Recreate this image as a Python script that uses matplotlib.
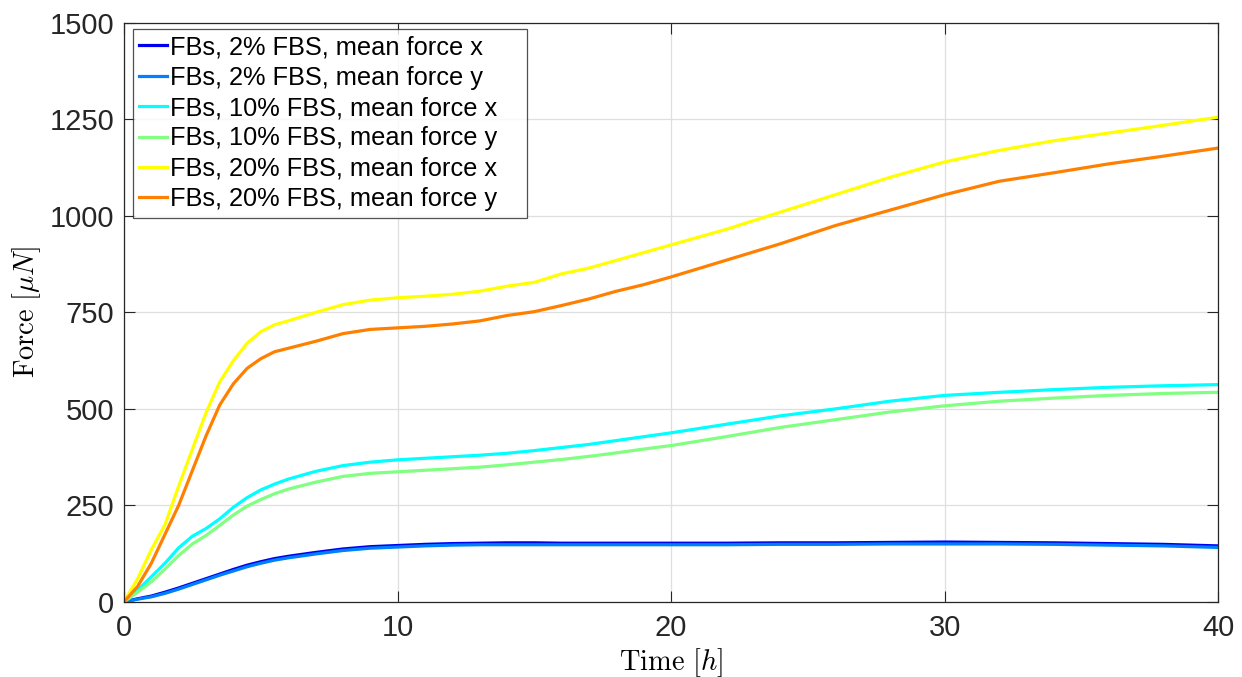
import matplotlib
matplotlib.use('Agg')
import matplotlib.pyplot as plt

plt.rcParams['font.family'] = ['Liberation Sans', 'DejaVu Sans']
plt.rcParams['mathtext.fontset'] = 'cm'

# time axis in hours
time_h = [0, 0.5, 1, 1.5, 2, 2.5, 3, 3.5, 4, 4.5, 5, 5.5, 6, 7, 8, 9, 10, 11, 12, 13,
          14, 15, 16, 17, 18, 19, 20, 22, 24, 26, 28, 30, 32, 34, 36, 38, 40]

# mean forces (uN)
fbs2_x = [0, 8, 15, 25, 36, 48, 60, 72, 84, 95, 104, 112, 118, 128, 137, 143, 146, 149, 151, 152,
          153, 153, 152, 152, 152, 152, 152, 152, 153, 153, 154, 155, 154, 153, 151, 149, 145]
fbs2_y = [0, 7, 13, 22, 33, 45, 57, 69, 80, 91, 100, 108, 114, 124, 133, 139, 142, 145, 147, 148,
          148, 148, 148, 148, 148, 148, 148, 148, 149, 149, 150, 150, 150, 149, 147, 145, 141]
fbs10_x = [0, 30, 65, 100, 140, 170, 190, 215, 245, 270, 290, 305, 318, 338, 353, 362, 368, 372, 376, 380,
           385, 392, 400, 408, 418, 428, 438, 460, 482, 500, 520, 535, 543, 550, 556, 560, 563]
fbs10_y = [0, 25, 52, 85, 120, 150, 172, 198, 225, 248, 265, 280, 292, 310, 325, 333, 337, 341, 345, 349,
           355, 362, 369, 377, 386, 396, 405, 428, 452, 472, 492, 508, 520, 528, 535, 540, 543]
fbs20_x = [0, 60, 135, 200, 300, 395, 490, 570, 625, 670, 700, 718, 728, 750, 770, 782, 788, 792, 797, 805,
           818, 828, 850, 865, 885, 905, 925, 965, 1010, 1055, 1100, 1140, 1170, 1195, 1215, 1235, 1256]
fbs20_y = [0, 40, 100, 175, 250, 340, 430, 510, 565, 605, 630, 648, 657, 675, 695, 706, 710, 714, 720, 728,
           742, 752, 768, 785, 805, 822, 842, 885, 928, 975, 1015, 1055, 1090, 1112, 1135, 1155, 1176]

labels = ['FBs, 2% FBS, mean force x', 'FBs, 2% FBS, mean force y',
          'FBs, 10% FBS, mean force x', 'FBs, 10% FBS, mean force y',
          'FBs, 20% FBS, mean force x', 'FBs, 20% FBS, mean force y']
series = [fbs2_x, fbs2_y, fbs10_x, fbs10_y, fbs20_x, fbs20_y]
colors = ['#0000F0', '#0080FF', '#00FFFF', '#80FF80', '#FFFF00', '#FF8000']

fig = plt.figure(figsize=(12.42, 6.77), dpi=100)
ax = fig.add_axes([0.0998, 0.111, 0.881, 0.855])

for s, c, l in zip(series, colors, labels):
    ax.plot(time_h, s, color=c, linewidth=2.3, label=l)

ax.set_xlim(0, 40)
ax.set_ylim(0, 1500)
ax.set_xticks([0, 10, 20, 30, 40])
ax.set_yticks([0, 250, 500, 750, 1000, 1250, 1500])
ax.grid(True, color='#dfdfdf', linewidth=0.9)
ax.set_axisbelow(True)
ax.tick_params(direction='in', length=8, width=0.8, top=True, right=True,
               labelsize=21, colors='#262626')
ax.tick_params(axis='x', pad=9)
ax.tick_params(axis='y', pad=7)
for sp in ax.spines.values():
    sp.set_color('#262626')
    sp.set_linewidth(0.9)

ax.set_xlabel(r'$\mathrm{Time}\ [h]$', fontsize=20.5, labelpad=3)
ax.set_ylabel(r'$\mathrm{Force}\ [\mu N]$', fontsize=20.5, labelpad=5)

leg = ax.legend(loc='upper left', fontsize=18.3, frameon=True, fancybox=False,
                edgecolor='#262626', handlelength=1.1, handletextpad=0.12,
                borderpad=0.25, labelspacing=0.25, borderaxespad=0,
                bbox_to_anchor=(0.0082, 0.9896, 0.360, 0.0), mode='expand')
leg.get_frame().set_linewidth(0.9)

fig.savefig('out.png', dpi=100)
